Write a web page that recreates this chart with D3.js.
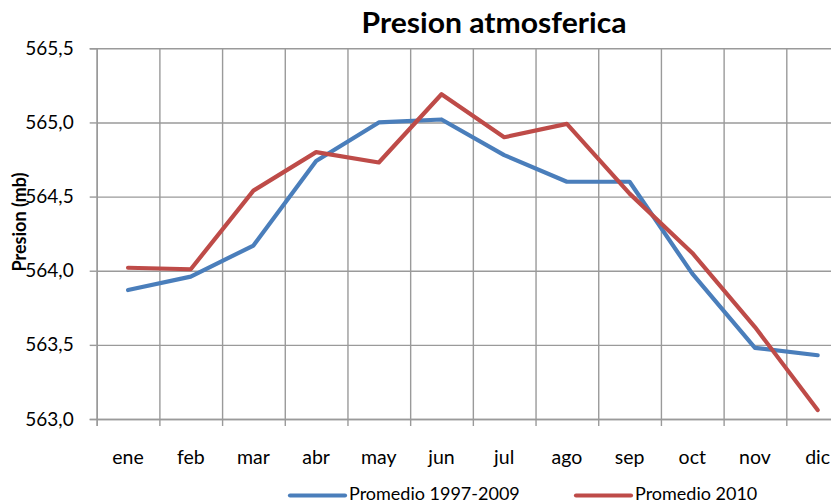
<!DOCTYPE html>
<html>
<head>
<meta charset="utf-8">
<script src="https://cdn.jsdelivr.net/npm/d3@7"></script>
<style>
  html, body { margin: 0; padding: 0; background: #fff; }
  svg { display: block; }
  text { font-family: Lato, "Open Sans", sans-serif; fill: #000; }
</style>
</head>
<body>
<svg id="chart" width="831" height="504"></svg>
<script>
// Monthly mean atmospheric pressure (mb)
const months = ["ene", "feb", "mar", "abr", "may", "jun", "jul", "ago", "sep", "oct", "nov", "dic"];
const promedio19972009 = [563.87, 563.96, 564.17, 564.74, 565.00, 565.02, 564.78, 564.60, 564.60, 563.98, 563.48, 563.43];
const promedio2010 = [564.02, 564.01, 564.54, 564.80, 564.73, 565.19, 564.90, 564.99, 564.52, 564.12, 563.62, 563.06];
const yTicks = [563.0, 563.5, 564.0, 564.5, 565.0, 565.5];
const seriesNames = ["Promedio 1997-2009", "Promedio 2010"];
const seriesColors = ["#4a7ebb", "#be4b48"];

const svg = d3.select("#chart");
const plot = { left: 96.7, right: 849, top: 48.3, bottom: 419 };
const gridColor = "#9a9a9a";

const x = d3.scaleBand().domain(months).range([plot.left, plot.right]);
const xEdges = d3.scaleLinear().domain([0, months.length]).range([plot.left, plot.right]);
const y = d3.scaleLinear().domain([563.0, 565.5]).range([plot.bottom, plot.top]);
const fmt = v => d3.format(".1f")(v).replace(".", ",");

// horizontal gridlines
svg.append("g")
  .attr("transform", `translate(${plot.left},0)`)
  .call(d3.axisLeft(y).tickValues(yTicks).tickSize(-(plot.right - plot.left)).tickFormat(""))
  .call(g => g.select(".domain").remove())
  .call(g => g.selectAll("line").attr("stroke", gridColor).attr("stroke-width", 1.4));

// vertical gridlines at category boundaries
svg.append("g")
  .attr("transform", `translate(0,${plot.bottom})`)
  .call(d3.axisBottom(xEdges).tickValues(d3.range(0, months.length + 1)).tickSize(-(plot.bottom - plot.top)).tickFormat(""))
  .call(g => g.select(".domain").remove())
  .call(g => g.selectAll("line").attr("stroke", gridColor).attr("stroke-width", 1.4));

// y axis with outward ticks and labels
svg.append("g")
  .attr("transform", `translate(${plot.left},0)`)
  .call(d3.axisLeft(y).tickValues(yTicks).tickSize(7).tickPadding(16).tickFormat(fmt))
  .call(g => g.select(".domain").attr("stroke", gridColor).attr("stroke-width", 1.4))
  .call(g => g.selectAll("line").attr("stroke", gridColor).attr("stroke-width", 1.4))
  .call(g => g.selectAll("text").attr("font-size", 19).attr("fill", "#000").attr("font-family", "Lato"));

// x axis ticks at boundaries
svg.append("g")
  .attr("transform", `translate(0,${plot.bottom})`)
  .call(d3.axisBottom(xEdges).tickValues(d3.range(0, months.length + 1)).tickSize(7).tickFormat(""))
  .call(g => g.select(".domain").attr("stroke", gridColor).attr("stroke-width", 1.4))
  .call(g => g.selectAll("line").attr("stroke", gridColor).attr("stroke-width", 1.4));

// x category labels
svg.append("g")
  .attr("transform", `translate(0,${plot.bottom})`)
  .call(d3.axisBottom(x).tickSize(0).tickPadding(31))
  .call(g => g.select(".domain").remove())
  .call(g => g.selectAll("text").attr("font-size", 19.5).attr("fill", "#000").attr("font-family", "Lato"));

// series lines
const line = d3.line()
  .x((d, i) => x(months[i]) + x.bandwidth() / 2)
  .y(d => y(d));

[promedio19972009, promedio2010].forEach((vals, k) => {
  svg.append("path")
    .datum(vals)
    .attr("fill", "none")
    .attr("stroke", seriesColors[k])
    .attr("stroke-width", 4.2)
    .attr("stroke-linejoin", "round")
    .attr("stroke-linecap", "round")
    .attr("d", line);
});

// title
svg.append("text")
  .attr("x", 494)
  .attr("y", 33)
  .attr("text-anchor", "middle")
  .attr("font-size", 28)
  .attr("font-weight", "bold")
  .attr("textLength", 265)
  .attr("lengthAdjust", "spacingAndGlyphs")
  .text("Presion atmosferica");

// y axis title
svg.append("text")
  .attr("transform", "translate(26,222) rotate(-90)")
  .attr("text-anchor", "middle")
  .attr("font-size", 18)
  .attr("font-weight", "bold")
  .text("Presion (mb)");

// legend
const legendX = [290, 576];
seriesNames.forEach((name, k) => {
  const g = svg.append("g").attr("transform", `translate(${legendX[k]},495.5)`);
  g.append("line")
    .attr("x1", 0).attr("x2", 55)
    .attr("stroke", seriesColors[k])
    .attr("stroke-width", 4.2)
    .attr("stroke-linecap", "round");
  g.append("text")
    .attr("x", 59)
    .attr("y", 4)
    .attr("font-size", 18)
    .text(name);
});
</script>
</body>
</html>
